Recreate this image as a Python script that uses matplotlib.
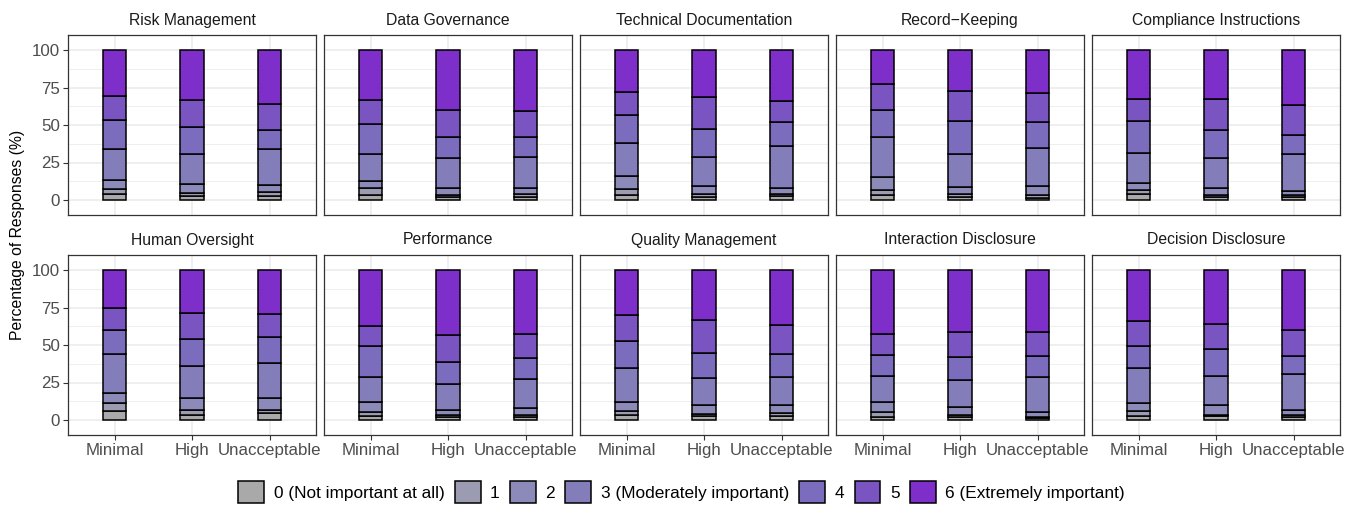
import numpy as np
import matplotlib
matplotlib.use("Agg")
import matplotlib.pyplot as plt
from matplotlib.patches import Patch

plt.rcParams['font.family'] = ['Liberation Sans', 'DejaVu Sans']

# facets, risk groups and answer levels
panels = ["Risk Management", "Data Governance", "Technical Documentation",
          "Record\u2212Keeping", "Compliance Instructions",
          "Human Oversight", "Performance", "Quality Management",
          "Interaction Disclosure", "Decision Disclosure"]
groups = ["Minimal", "High", "Unacceptable"]
levels = ["0 (Not important at all)", "1", "2", "3 (Moderately important)",
          "4", "5", "6 (Extremely important)"]

# share of answers per level (0..6), one row per risk group
risk_management = [[4.2, 3.1, 6.3, 20.2, 19.8, 15.5, 30.9],
                   [3.0, 1.7, 5.7, 20.5, 17.5, 18.5, 33.1],
                   [2.4, 2.7, 4.7, 24.4, 12.7, 17.3, 35.8]]
data_governance = [[3.3, 4.5, 4.9, 18.2, 19.8, 16.2, 33.1],
                   [2.0, 1.3, 4.7, 19.8, 14.4, 18.0, 39.8],
                   [2.0, 1.8, 4.4, 20.2, 13.4, 17.5, 40.7]]
technical_docs = [[3.6, 3.5, 8.7, 22.0, 19.1, 15.1, 28.0],
                  [2.0, 1.8, 5.8, 18.8, 18.9, 21.1, 31.6],
                  [2.4, 1.8, 3.6, 28.0, 16.0, 14.4, 33.8]]
record_keeping = [[3.1, 3.8, 8.2, 26.9, 17.8, 17.3, 22.9],
                  [2.0, 1.8, 4.9, 22.2, 21.5, 20.5, 27.1],
                  [1.3, 1.8, 6.0, 25.8, 17.3, 18.9, 28.9]]
compliance = [[4.0, 2.9, 4.2, 20.5, 21.3, 14.7, 32.4],
              [2.2, 1.4, 4.4, 20.0, 18.4, 21.2, 32.4],
              [2.0, 1.3, 2.7, 24.7, 12.4, 20.0, 36.9]]
human_oversight = [[6.0, 5.3, 6.7, 26.2, 16.0, 14.5, 25.3],
                   [3.3, 3.1, 8.0, 21.8, 17.8, 17.6, 28.4],
                   [4.9, 2.0, 7.5, 23.4, 17.8, 15.3, 29.1]]
performance = [[2.4, 3.2, 6.6, 16.7, 20.4, 13.6, 37.1],
               [2.0, 1.1, 3.8, 17.1, 14.9, 17.8, 43.3],
               [2.0, 1.3, 4.5, 19.5, 14.3, 15.7, 42.7]]
quality_mgmt = [[3.1, 2.9, 5.8, 22.6, 18.0, 17.8, 29.8],
                [2.4, 1.4, 6.0, 18.4, 16.7, 22.0, 33.1],
                [2.4, 2.0, 5.8, 18.7, 15.3, 19.1, 36.7]]
interaction_disc = [[2.2, 3.1, 6.7, 17.6, 14.0, 13.7, 42.7],
                    [2.2, 1.1, 5.4, 18.2, 15.3, 16.5, 41.3],
                    [1.3, 0.9, 3.4, 22.8, 14.3, 15.7, 41.6]]
decision_disc = [[2.7, 3.1, 5.3, 23.3, 15.2, 16.6, 33.8],
                 [2.4, 1.2, 6.4, 19.6, 17.5, 17.1, 35.8],
                 [1.8, 1.5, 3.6, 24.0, 12.0, 17.3, 39.8]]

panel_data = [risk_management, data_governance, technical_docs, record_keeping,
              compliance, human_oversight, performance, quality_mgmt,
              interaction_disc, decision_disc]

# grey -> purple fill scale
fills = ["#A9A9A9", "#9B9BB2", "#8C8AB8", "#837DB9", "#7B6CBD", "#7A54C1", "#7F2FC9"]

W, H = 1363, 508
fig = plt.figure(figsize=(W / 100, H / 100), dpi=100)

left0, pw, gap = 68, 248, 8
row_tops = [35, 255]
ph = 180
grey30 = "#4D4D4D"

x = np.arange(1, len(groups) + 1)
for i, (name, vals) in enumerate(zip(panels, panel_data)):
    r, c = divmod(i, 5)
    lx = left0 + c * (pw + gap)
    ax = fig.add_axes([lx / W, 1 - (row_tops[r] + ph) / H, pw / W, ph / H])
    vals = np.array(vals)
    bottoms = np.zeros(len(groups))
    for k in range(len(levels)):
        ax.bar(x, vals[:, k], width=0.3, bottom=bottoms, color=fills[k],
               edgecolor="black", linewidth=1.1, zorder=3)
        bottoms += vals[:, k]

    ax.set_xlim(0.4, 3.6)
    ax.set_ylim(-10, 110)
    ax.set_yticks([0, 25, 50, 75, 100])
    ax.set_yticks([12.5, 37.5, 62.5, 87.5], minor=True)
    ax.set_xticks(x)
    ax.grid(True, which="major", color="#EBEBEB", linewidth=1.1, zorder=0)
    ax.grid(True, which="minor", axis="y", color="#EBEBEB", linewidth=0.55, zorder=0)
    ax.tick_params(which="minor", length=0)
    ax.tick_params(which="major", length=3.5, color="#333333", width=0.8,
                   labelcolor=grey30, labelsize=12.2, pad=2.5)
    for s in ax.spines.values():
        s.set_color("#333333")
        s.set_linewidth(0.9)
    if c == 0:
        ax.set_yticklabels(["0", "25", "50", "75", "100"])
    else:
        ax.tick_params(axis="y", length=0, labelleft=False)
    if r == 1:
        ax.set_xticklabels(groups)
    else:
        ax.tick_params(axis="x", length=0, labelbottom=False)
    ax.text(0.5, 1 + 15 / ph, name, transform=ax.transAxes, ha="center",
            va="center", fontsize=11.3, color="#1A1A1A")

fig.text(18 / W, 1 - 235 / H, "Percentage of Responses (%)", rotation=90,
         ha="center", va="center", fontsize=11.3)

handles = [Patch(facecolor=f, edgecolor="black", linewidth=1.1) for f in fills]
fig.legend(handles, levels, loc="center", bbox_to_anchor=(0.5, 1 - 492 / H),
           ncol=7, frameon=False, fontsize=12.4, handlelength=1.5,
           handleheight=1.5, handletextpad=0.55, columnspacing=0.6)

fig.savefig("out.png", dpi=100)
